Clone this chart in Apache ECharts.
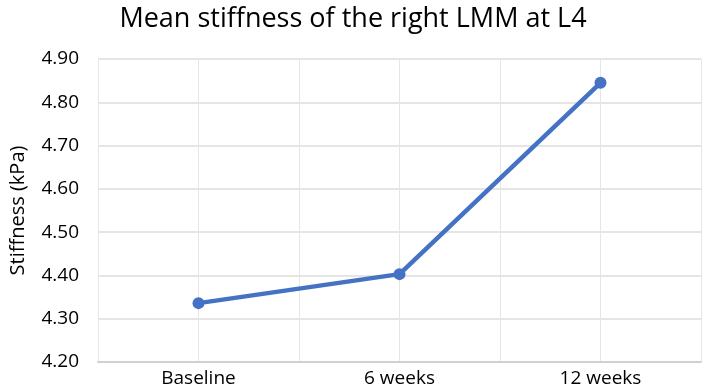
<!DOCTYPE html>
<html lang="en">

<head>
    <meta charset="UTF-8">
    <title>Mean stiffness of the right LMM at L4</title>
    <script type="text/javascript" src="https://cdn.jsdelivr.net/npm/echarts@6/dist/echarts.min.js"></script>
    <style>
        html, body { margin: 0; padding: 0; background: #fff; }
    </style>
</head>

<body>
    <div id="main" style="width: 706px; height: 390px;"></div>

    <script type="text/javascript">
        // data
        var categories = ['Baseline', '6 weeks', '12 weeks'];
        var stiffness = [4.336, 4.403, 4.845];
        var yMin = 4.2, yMax = 4.9, yStep = 0.1;
        // half-band slots, only used to draw the vertical grid lines
        var gridSlots = ['', '', '', '', '', ''];

        var font = '"Open Sans", "Liberation Sans", sans-serif';
        var myChart = echarts.init(document.getElementById('main'));

        myChart.setOption({
            animation: false,
            title: {
                text: 'Mean stiffness of the right LMM at L4',
                left: 'center',
                top: 1,
                textStyle: { color: '#000', fontSize: 27, fontWeight: 'normal', fontFamily: font }
            },
            grid: { left: 96, right: 5, top: 59, bottom: 28 },
            xAxis: [{
                type: 'category',
                data: categories,
                boundaryGap: true,
                axisLine: { lineStyle: { color: '#d0d0d0', width: 2 } },
                axisTick: { show: false },
                splitLine: { show: false },
                axisLabel: { color: '#000', fontSize: 19, fontFamily: font, margin: 7 }
            }, {
                type: 'category',
                data: gridSlots,
                position: 'top',
                boundaryGap: true,
                axisLine: { show: false },
                axisTick: { show: false },
                axisLabel: { show: false },
                splitLine: { show: true, interval: 0, lineStyle: { color: '#e6e6e6', width: 1 } }
            }],
            yAxis: {
                type: 'value',
                min: yMin,
                max: yMax,
                interval: yStep,
                name: 'Stiffness (kPa)',
                nameLocation: 'middle',
                nameGap: 70,
                nameTextStyle: { color: '#000', fontSize: 20, fontFamily: font },
                axisLine: { show: false },
                axisTick: { show: false },
                axisLabel: {
                    color: '#000', fontSize: 19, fontFamily: font, margin: 19,
                    formatter: function (v) { return v.toFixed(2); }
                },
                splitLine: { lineStyle: { color: '#dcdcdc', width: 1.5 } }
            },
            series: [{
                name: 'Stiffness',
                type: 'line',
                data: stiffness,
                xAxisIndex: 0,
                symbol: 'circle',
                symbolSize: 12,
                lineStyle: { color: '#4472C4', width: 4.5 },
                itemStyle: { color: '#4472C4' }
            }]
        });
    </script>

</body>

</html>
